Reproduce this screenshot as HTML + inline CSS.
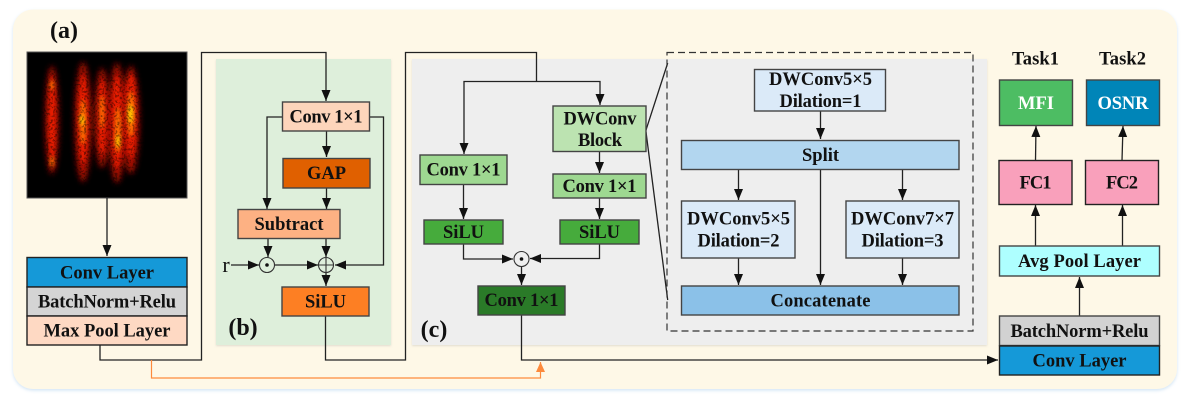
<!DOCTYPE html>
<html><head><meta charset="utf-8">
<style>
html,body{margin:0;padding:0;background:#fff;width:1187px;height:401px;overflow:hidden}
svg{display:block;filter:blur(.35px)}
text{font-family:"Liberation Serif",serif;font-weight:700;fill:#111;text-anchor:middle;font-size:18.5px}
.b{stroke:#444;stroke-width:1.4}
.k{stroke:#222;stroke-width:1.4}
.l{fill:none;stroke:#222;stroke-width:1.3}
</style></head><body>
<svg width="1187" height="401" viewBox="0 0 1187 401" xmlns="http://www.w3.org/2000/svg">
<defs>
<marker id="a" markerUnits="userSpaceOnUse" markerWidth="12" markerHeight="11" refX="11" refY="5.5" orient="auto"><path d="M0,1 L11,5.5 L0,10 Z" fill="#111"/></marker>
<marker id="o" markerUnits="userSpaceOnUse" markerWidth="12" markerHeight="11" refX="10" refY="5.5" orient="auto"><path d="M0,1 L10,5.5 L0,10 Z" fill="#fd8a3c"/></marker>
<filter id="sh" x="-5%" y="-5%" width="110%" height="110%"><feDropShadow dx="0" dy="1.5" stdDeviation="1.5" flood-color="#9cc4e8" flood-opacity=".45"/></filter>
<filter id="sh2" x="-5%" y="-5%" width="110%" height="110%"><feDropShadow dx="0" dy="1" stdDeviation="1" flood-color="#888" flood-opacity=".25"/></filter>
<filter id="bl1"><feGaussianBlur stdDeviation="3"/></filter>
<filter id="bl2"><feGaussianBlur stdDeviation="1.8"/></filter>
<filter id="noise" x="0" y="0" width="100%" height="100%">
<feTurbulence type="fractalNoise" baseFrequency=".45" numOctaves="2" seed="7"/>
<feColorMatrix values="0 0 0 0 0 0 0 0 0 0 0 0 0 0 0 5 5 0 0 -5"/>
</filter>
<clipPath id="im"><rect x="27" y="52" width="160" height="146"/></clipPath>
</defs>

<rect x="13" y="9.5" width="1164" height="379.5" rx="20" fill="#fef8e7" filter="url(#sh)"/>

<rect x="216" y="59" width="175" height="286" fill="#deefdb" filter="url(#sh2)"/>
<rect x="412" y="59" width="575" height="286" fill="#eeeeee" filter="url(#sh2)"/>

<!-- heatmap -->
<rect x="27" y="52" width="160" height="146" fill="#000"/>
<g clip-path="url(#im)">
<g filter="url(#bl1)" fill="#a81000">
<ellipse cx="52" cy="120" rx="7" ry="54"/>
<ellipse cx="83" cy="122" rx="8.5" ry="60"/>
<ellipse cx="102" cy="118" rx="7.5" ry="50"/>
<ellipse cx="117" cy="123" rx="8.5" ry="60"/>
<ellipse cx="131" cy="120" rx="8.5" ry="54"/>
</g>
<g filter="url(#bl2)">
<g fill="#e81c00">
<ellipse cx="52" cy="120" rx="3.6" ry="44"/>
<ellipse cx="83" cy="120" rx="5" ry="44"/>
<ellipse cx="102" cy="118" rx="4" ry="38"/>
<ellipse cx="117" cy="122" rx="5" ry="46"/>
<ellipse cx="131" cy="116" rx="5.4" ry="42"/>
</g>
<g fill="#ff7000">
<ellipse cx="83" cy="122" rx="2.6" ry="22"/>
<ellipse cx="102" cy="112" rx="1.8" ry="16"/>
<ellipse cx="118" cy="130" rx="2.6" ry="22"/>
<ellipse cx="131" cy="114" rx="3.2" ry="22"/>
<ellipse cx="52" cy="85" rx="2.2" ry="4"/>
<ellipse cx="52" cy="162" rx="2.2" ry="5"/>
</g>
<g fill="#ffe000">
<ellipse cx="130.5" cy="114" rx="1.6" ry="9"/>
<ellipse cx="118" cy="141" rx="1.2" ry="6"/>
<ellipse cx="82" cy="120" rx="1.3" ry="5"/>
</g>
</g>
<rect x="27" y="52" width="160" height="146" filter="url(#noise)" opacity=".4"/>
</g>
<rect x="27" y="52" width="160" height="146" fill="none" stroke="#555" stroke-width="1"/>

<!-- connectors -->
<g class="l">
<path d="M107,198V256" marker-end="url(#a)"/>
<path d="M100,345V360H201.5V52.5H326V101" marker-end="url(#a)"/>
<path d="M282,117H267V209" marker-end="url(#a)"/>
<path d="M370,117H383.5V265H335" marker-end="url(#a)"/>
<path d="M326.5,131V157" marker-end="url(#a)"/>
<path d="M326.5,188V209" marker-end="url(#a)"/>
<path d="M268,238V257" marker-end="url(#a)"/>
<path d="M326,238V257" marker-end="url(#a)"/>
<path d="M231,265H259" marker-end="url(#a)"/>
<path d="M275,265H318" marker-end="url(#a)"/>
<path d="M326,273V286" marker-end="url(#a)"/>
<path d="M325.5,316V360H405.5V52.5H536.5V81.5"/>
<path d="M536.5,81.5H464V154" marker-end="url(#a)"/>
<path d="M536.5,81.5H600V105" marker-end="url(#a)"/>
<path d="M599.5,151V173" marker-end="url(#a)"/>
<path d="M599.5,198V219" marker-end="url(#a)"/>
<path d="M463.5,184V219" marker-end="url(#a)"/>
<path d="M463.5,244V259H513" marker-end="url(#a)"/>
<path d="M599.5,244V258.5H530" marker-end="url(#a)"/>
<path d="M521.5,267V285" marker-end="url(#a)"/>
<path d="M521.5,315V360H998" marker-end="url(#a)"/>
<path d="M646,130L667.7,63M646,132L667.7,300"/>
<path d="M820.5,111V139" marker-end="url(#a)"/>
<path d="M738.5,169.5V200" marker-end="url(#a)"/>
<path d="M820.5,169.5V285" marker-end="url(#a)"/>
<path d="M902.5,169.5V200" marker-end="url(#a)"/>
<path d="M738.5,258V285" marker-end="url(#a)"/>
<path d="M902.5,258V285" marker-end="url(#a)"/>
<path d="M1035.5,160.5L1036,126" marker-end="url(#a)"/>
<path d="M1122,160.5L1123,126" marker-end="url(#a)"/>
<path d="M1035.5,246V205" marker-end="url(#a)"/>
<path d="M1122.5,246V205" marker-end="url(#a)"/>
<path d="M1079.5,316V277" marker-end="url(#a)"/>
</g>
<path d="M151.5,360V378H540.5V362" fill="none" stroke="#fd8a3c" stroke-width="1.2" marker-end="url(#o)"/>
<rect x="667" y="52.5" width="306" height="278.5" fill="none" stroke="#333" stroke-width="1.2" stroke-dasharray="7 4"/>

<!-- circles -->
<g fill="none" stroke="#333" stroke-width="1.1">
<circle cx="267" cy="265" r="7.5"/>
<circle cx="326" cy="265" r="7.5"/>
<path d="M318.5,265H333.5M326,257.5V272.5"/>
<circle cx="521.5" cy="259" r="7.5"/>
</g>
<circle cx="267" cy="265" r="1.8" fill="#111"/>
<circle cx="521.5" cy="259" r="1.8" fill="#111"/>

<!-- left stack -->
<rect class="k" x="27" y="257.5" width="160" height="29.5" fill="#1599d8"/>
<rect class="k" x="27" y="287" width="160" height="29" fill="#d4d4d4"/>
<rect class="k" x="27" y="316" width="160" height="29" fill="#fed9c3"/>
<text x="107" y="278.5" textLength="94">Conv Layer</text>
<text x="107" y="307.5" textLength="138">BatchNorm+Relu</text>
<text x="107" y="336.5" textLength="127">Max Pool Layer</text>

<!-- b -->
<rect class="b" x="282.5" y="102" width="87" height="29" fill="#fdd5bb"/>
<rect class="b" x="283" y="158.5" width="87" height="29.5" fill="#e06000"/>
<rect class="b" x="238" y="209.5" width="102" height="29" fill="#fdb183"/>
<rect class="b" x="282" y="287" width="87" height="29" fill="#fd7f23"/>
<text x="326" y="122.5" textLength="73">Conv 1×1</text>
<text x="326.5" y="179" textLength="39">GAP</text>
<text x="289" y="230" textLength="69">Subtract</text>
<text x="325.5" y="307.5" textLength="41">SiLU</text>
<text x="226" y="272" style="font-weight:400;font-size:22px">r</text>

<!-- c -->
<rect class="b" x="553" y="106" width="93" height="45.5" fill="#bce3b1"/>
<rect class="b" x="420" y="155" width="87" height="29.5" fill="#9ed891"/>
<rect class="b" x="553" y="174" width="93" height="24" fill="#9ed891"/>
<rect class="b" x="424" y="220" width="79" height="24" fill="#46ab3c"/>
<rect class="b" x="560" y="220" width="79" height="24" fill="#46ab3c"/>
<rect class="b" x="478" y="286" width="87" height="29" fill="#2a7a28"/>
<text x="600" y="124.5" textLength="73">DWConv</text>
<text x="600" y="146" textLength="44">Block</text>
<text x="463.5" y="175.5" textLength="74">Conv 1×1</text>
<text x="599.5" y="192" textLength="74">Conv 1×1</text>
<text x="463.5" y="238" textLength="41">SiLU</text>
<text x="599.5" y="238" textLength="41">SiLU</text>
<text x="521.5" y="306" textLength="74">Conv 1×1</text>

<!-- dwconv block -->
<rect class="b" x="754.5" y="69.5" width="131" height="41.5" fill="#dbeaf8"/>
<rect class="b" x="681.5" y="140.5" width="277.5" height="29" fill="#b2d6ef"/>
<rect class="b" x="681.5" y="201" width="113.5" height="57" fill="#dbeaf8"/>
<rect class="b" x="846" y="201" width="113" height="57" fill="#dbeaf8"/>
<rect class="b" x="681.5" y="286" width="277.5" height="29" fill="#8bc1e8"/>
<text x="820.5" y="85" textLength="103">DWConv5×5</text>
<text x="820.5" y="107" textLength="82">Dilation=1</text>
<text x="820.5" y="161" textLength="37">Split</text>
<text x="738.5" y="224.5" textLength="103">DWConv5×5</text>
<text x="738.5" y="246.5" textLength="82">Dilation=2</text>
<text x="902.5" y="224.5" textLength="103">DWConv7×7</text>
<text x="902.5" y="246.5" textLength="82">Dilation=3</text>
<text x="820.5" y="306.5" textLength="100">Concatenate</text>

<!-- right -->
<rect class="b" x="999.5" y="80" width="73" height="45.5" fill="#4dbd63"/>
<rect class="b" x="1086.5" y="80" width="73" height="45.5" fill="#0085b8"/>
<rect class="k" x="999" y="160.5" width="73" height="44" fill="#f9a0bb"/>
<rect class="k" x="1085.5" y="160.5" width="73" height="44" fill="#f9a0bb"/>
<rect class="b" x="999.5" y="246" width="160" height="30" fill="#aeffff"/>
<rect class="b" x="999.5" y="316" width="160" height="29.5" fill="#d2d2d2"/>
<rect class="k" x="999.5" y="346" width="160" height="29" fill="#1599d8"/>
<text x="1035.5" y="64.5" textLength="47">Task1</text>
<text x="1122.5" y="64.5" textLength="47">Task2</text>
<text x="1036" y="109" textLength="36" style="fill:#fff">MFI</text>
<text x="1123" y="109" textLength="51" style="fill:#fff">OSNR</text>
<text x="1035.5" y="188.5" textLength="32">FC1</text>
<text x="1122" y="188.5" textLength="32">FC2</text>
<text x="1079.5" y="267" textLength="123">Avg Pool Layer</text>
<text x="1079.5" y="337" textLength="138">BatchNorm+Relu</text>
<text x="1079.5" y="366.5" textLength="94">Conv Layer</text>

<text x="64" y="38" style="font-size:24px">(a)</text>
<text x="243" y="335" style="font-size:24px">(b)</text>
<text x="434" y="337" style="font-size:24px">(c)</text>
</svg>
</body></html>
